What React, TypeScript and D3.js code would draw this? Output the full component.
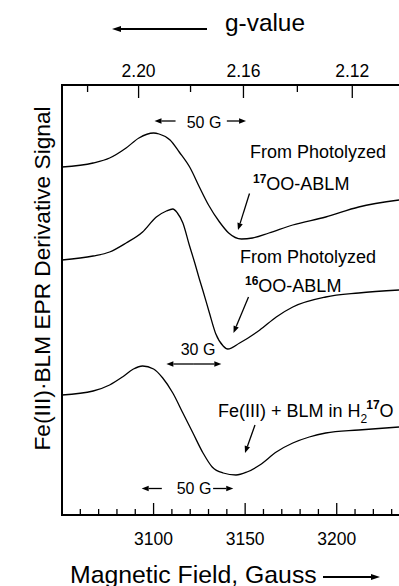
import React from 'react';
import * as d3 from 'd3';

// Traces (field in Gauss, signal in arbitrary units)
const field17 = [3050, 3067, 3076, 3085, 3092, 3100, 3103, 3109, 3114, 3120, 3125, 3130, 3136, 3141, 3148, 3154, 3163, 3176, 3194, 3212, 3234];
const signal17 = [348, 352, 357, 367, 377, 382, 381, 375, 363, 347, 328, 310, 293, 282, 276, 277, 282, 290, 298, 308, 315];

const field16 = [3050, 3067, 3076, 3085, 3094, 3101.5, 3107, 3110.5, 3113, 3116, 3119.5, 3122.5, 3125, 3127, 3130.5, 3134, 3138, 3140.5, 3147, 3158, 3167, 3176, 3194, 3212, 3234];
const signal16 = [255, 259, 263, 272, 283, 298, 304, 306, 302, 292, 270, 252, 236, 224, 202, 181, 169, 166, 172, 185, 198, 208, 218, 222, 225];

const fieldH2O = [3050, 3067, 3076, 3083, 3089, 3094, 3100, 3105, 3110.5, 3116, 3121.5, 3127, 3132, 3138, 3145, 3151, 3158, 3167, 3176, 3185, 3194, 3212, 3234];
const signalH2O = [120, 124, 130, 138, 146, 149, 146, 137, 122, 102, 82, 62, 48, 42, 40, 43, 50, 63, 72, 78, 82, 85, 88];

const fieldTicks = [3100, 3150, 3200];
const gTicks = [2.2, 2.16, 2.12];
const gMinorTicks = [2.22, 2.18, 2.14];
const gFactor = 6802; // g * B (Gauss)

const W = 399;
const H = 586;
const left = 62;
const top = 85;
const bottom = 515;
const font = "'Liberation Sans', Arial, Helvetica, sans-serif";

export default function App() {
  const x = d3.scaleLinear().domain([3050, 3234]).range([left, W]);
  const y = d3.scaleLinear().domain([0, 430]).range([bottom, top]);

  const line = d3.line<[number, number]>()
    .x(d => x(d[0]))
    .y(d => y(d[1]))
    .curve(d3.curveMonotoneX);

  const traces = [
    d3.zip(field17, signal17) as [number, number][],
    d3.zip(field16, signal16) as [number, number][],
    d3.zip(fieldH2O, signalH2O) as [number, number][],
  ];

  const minor = d3.range(3060, 3234, 10);

  // arrow helper: head at (x2, y2)
  const arrow = (x1: number, y1: number, x2: number, y2: number, key: string, len = 7, half = 2.8, sw = 1.3) => {
    const a = Math.atan2(y2 - y1, x2 - x1);
    const bx = x2 - len * Math.cos(a);
    const by = y2 - len * Math.sin(a);
    const px = -Math.sin(a) * half;
    const py = Math.cos(a) * half;
    return (
      <g key={key}>
        <line x1={x1} y1={y1} x2={bx} y2={by} stroke="#000" strokeWidth={sw} />
        <polygon points={`${x2},${y2} ${bx + px},${by + py} ${bx - px},${by - py}`} fill="#000" />
      </g>
    );
  };

  return (
    <svg width={W} height={H} style={{ position: 'absolute', left: 0, top: 0, background: '#fff' }} fontFamily={font}>
      {/* frame */}
      <line x1={left} y1={top} x2={W} y2={top} stroke="#000" strokeWidth={1.8} />
      <line x1={left} y1={bottom} x2={W} y2={bottom} stroke="#000" strokeWidth={1.8} />
      <line x1={left} y1={top - 0.9} x2={left} y2={bottom + 0.9} stroke="#000" strokeWidth={2} />

      {/* bottom ticks */}
      {minor.map(v => (
        <line key={'m' + v} x1={x(v)} x2={x(v)} y1={bottom} y2={bottom - (v % 50 === 0 ? 12 : 6)} stroke="#000" strokeWidth={1.3} />
      ))}
      {fieldTicks.map(v => (
        <text key={'t' + v} x={x(v)} y={545} textAnchor="middle" fontSize={17.5}>{v}</text>
      ))}

      {/* top g-value ticks */}
      {gTicks.map(g => (
        <g key={'g' + g}>
          <line x1={x(gFactor / g)} x2={x(gFactor / g)} y1={top} y2={top + 13} stroke="#000" strokeWidth={1.3} />
          <text x={x(gFactor / g)} y={77} textAnchor="middle" fontSize={17.5}>{g.toFixed(2)}</text>
        </g>
      ))}
      {gMinorTicks.map(g => (
        <line key={'gm' + g} x1={x(gFactor / g)} x2={x(gFactor / g)} y1={top} y2={top + 7} stroke="#000" strokeWidth={1.3} />
      ))}

      {/* traces */}
      {traces.map((t, i) => (
        <path key={i} d={line(t) || ''} fill="none" stroke="#000" strokeWidth={1.3} />
      ))}

      {/* axis titles */}
      <text x={225} y={31} fontSize={24.4}>g-value</text>
      {arrow(207, 29, 112, 29, 'ga', 9, 3, 2)}
      <text x={70} y={582.5} fontSize={24.8}>Magnetic Field, Gauss</text>
      {arrow(323, 577, 380, 577, 'ba', 9, 3, 2)}
      <text transform="translate(50,278.5) rotate(-90)" textAnchor="middle" fontSize={22.7}>Fe(III)·BLM EPR Derivative Signal</text>

      {/* 50 G scale, top */}
      {arrow(x(3112), 121, x(3100.5), 121, 'a1')}
      <text x={204} y={128} textAnchor="middle" fontSize={16}>50 G</text>
      {arrow(x(3140), 121, x(3150.5), 121, 'a2')}

      {/* label 1 */}
      <text x={250} y={158} fontSize={18}>From Photolyzed</text>
      <text x={253} y={190} fontSize={18}>
        <tspan fontSize={12} fontWeight="bold" dy={-7}>17</tspan>
        <tspan dy={7}>OO-ABLM</tspan>
      </text>
      {arrow(249.5, 193.5, 238, 230, 'p1')}

      {/* label 2 */}
      <text x={240} y={263} fontSize={18}>From Photolyzed</text>
      <text x={245} y={291.5} fontSize={18}>
        <tspan fontSize={12} fontWeight="bold" dy={-7}>16</tspan>
        <tspan dy={7}>OO-ABLM</tspan>
      </text>
      {arrow(248.5, 297, 233.5, 333, 'p2')}

      {/* 30 G */}
      <text x={198} y={355} textAnchor="middle" fontSize={16}>30 G</text>
      {arrow(x(3122), 364, x(3107), 364, 'c1')}
      {arrow(x(3122), 364, x(3137), 364, 'c2')}

      {/* label 3 */}
      <text x={218} y={416.5} fontSize={18}>
        Fe(III) + BLM in H
        <tspan fontSize={12} dy={6}>2</tspan>
        <tspan fontSize={12} fontWeight="bold" dy={-14} dx={-1}>17</tspan>
        <tspan dy={8}>O</tspan>
      </text>
      {arrow(255, 425, 245, 453, 'p3')}

      {/* 50 G scale, bottom */}
      {arrow(x(3104.5), 488.5, x(3093.5), 488.5, 'b1')}
      <text x={194} y={494} textAnchor="middle" fontSize={16}>50 G</text>
      {arrow(x(3132.5), 488.5, x(3143.5), 488.5, 'b2')}
    </svg>
  );
}
